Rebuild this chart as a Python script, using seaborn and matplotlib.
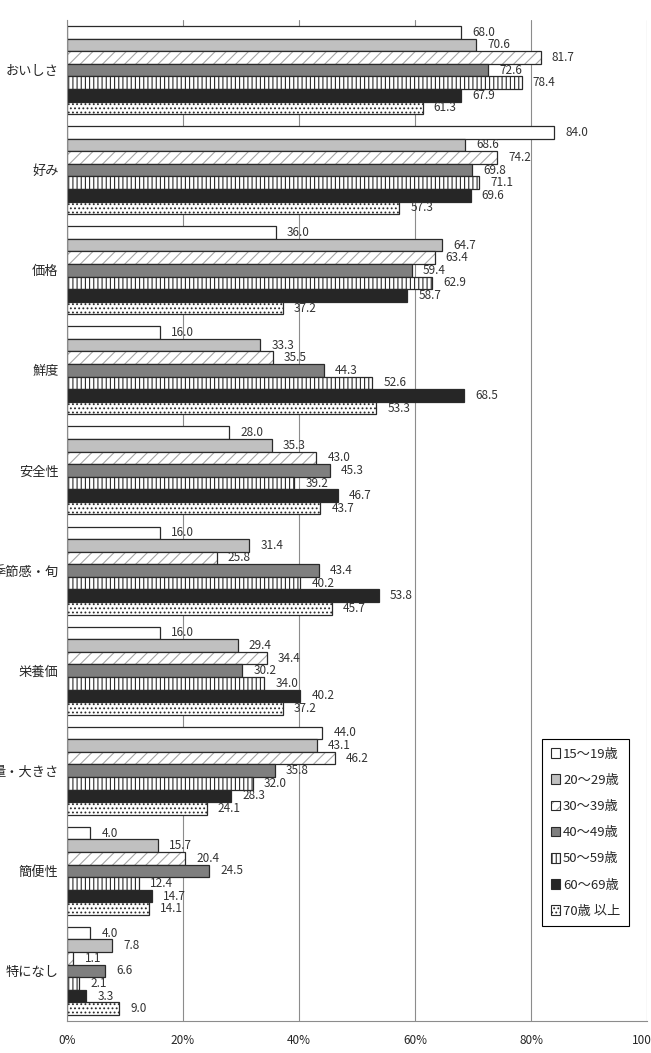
import numpy as np
import pandas as pd
import matplotlib
matplotlib.use("Agg")
import matplotlib.pyplot as plt
from matplotlib.colors import to_rgba
from matplotlib.patches import Patch
import seaborn as sns

categories = ["おいしさ", "好み", "価格", "鮮度", "安全性", "季節感・旬",
              "栄養価", "量・大きさ", "簡便性", "特になし"]
age_groups = ["15〜19歳", "20〜29歳", "30〜39歳", "40〜49歳",
              "50〜59歳", "60〜69歳", "70歳 以上"]

v_15_19 = [68.0, 84.0, 36.0, 16.0, 28.0, 16.0, 16.0, 44.0, 4.0, 4.0]
v_20_29 = [70.6, 68.6, 64.7, 33.3, 35.3, 31.4, 29.4, 43.1, 15.7, 7.8]
v_30_39 = [81.7, 74.2, 63.4, 35.5, 43.0, 25.8, 34.4, 46.2, 20.4, 1.1]
v_40_49 = [72.6, 69.8, 59.4, 44.3, 45.3, 43.4, 30.2, 35.8, 24.5, 6.6]
v_50_59 = [78.4, 71.1, 62.9, 52.6, 39.2, 40.2, 34.0, 32.0, 12.4, 2.1]
v_60_69 = [67.9, 69.6, 58.7, 68.5, 46.7, 53.8, 40.2, 28.3, 14.7, 3.3]
v_70_up = [61.3, 57.3, 37.2, 53.3, 43.7, 45.7, 37.2, 24.1, 14.1, 9.0]

series = [v_15_19, v_20_29, v_30_39, v_40_49, v_50_59, v_60_69, v_70_up]
fills = ["white", "#c0c0c0", "white", "#7f7f7f", "white", "#262626", "white"]
hatches = [None, None, "///", None, "||||", None, "...."]
hatch_colors = [None, None, "#a6a6a6", None, "#2a2a2a", None, "#2a2a2a"]

rows = []
for age, vals in zip(age_groups, series):
    for cat, v in zip(categories, vals):
        rows.append({"category": cat, "age": age, "value": v})
df = pd.DataFrame(rows)

sns.set_style("white")
plt.rcParams["font.family"] = ["Noto Sans CJK JP", "DejaVu Sans"]
plt.rcParams["hatch.linewidth"] = 0.8

fig = plt.figure(figsize=(6.51, 10.53), dpi=100)
ax = fig.add_axes([67 / 651, 1 - 1021 / 1053, 580 / 651, 1001 / 1053])

sns.barplot(data=df, y="category", x="value", hue="age", order=categories,
            hue_order=age_groups, palette=fills, saturation=1, width=0.88,
            edgecolor="#2a2a2a", linewidth=0.9, legend=False, ax=ax)

def paint_hatch(patch, h, hc):
    if h:
        patch.set_hatch(h)
        # light hatch lines on the diagonal series, dark outline kept
        patch._hatch_color = to_rgba(hc)

for cont, h, hc in zip(ax.containers, hatches, hatch_colors):
    for bar in cont:
        paint_hatch(bar, h, hc)
    ax.bar_label(cont, fmt="%.1f", padding=8, fontsize=8.5, color="#333333")

ax.set_xlim(0, 100)
ax.set_ylim(len(categories) - 0.5, -0.5)
ax.set_xticks(np.arange(0, 101, 20))
ax.set_xticklabels([f"{t}%" for t in range(0, 101, 20)], fontsize=8.5)
ax.xaxis.grid(True, color="#8c8c8c", linewidth=0.8)
ax.set_axisbelow(True)
ax.set_xlabel("")
ax.set_ylabel("")
ax.tick_params(axis="y", which="major", length=0, labelsize=9.5, pad=6)
ax.set_yticks(np.arange(-0.5, len(categories)), minor=True)
ax.tick_params(axis="y", which="minor", length=4, direction="out", color="#8c8c8c")
ax.tick_params(axis="x", length=4, direction="out", color="#8c8c8c", pad=5)
for side in ["top", "right"]:
    ax.spines[side].set_visible(False)
for side in ["left", "bottom"]:
    ax.spines[side].set_color("#8c8c8c")
    ax.spines[side].set_linewidth(0.8)

handles = []
for f, h, hc in zip(fills, hatches, hatch_colors):
    p = Patch(facecolor=f, edgecolor="#2a2a2a", linewidth=0.8)
    paint_hatch(p, h, hc)
    handles.append(p)
leg = fig.legend(handles, age_groups, loc="upper left",
                 bbox_to_anchor=(542 / 651, 1 - 739 / 1053),
                 bbox_transform=fig.transFigure, fontsize=9.5, frameon=True,
                 fancybox=False, edgecolor="black", framealpha=1,
                 handlelength=0.75, handleheight=0.75, handletextpad=0.2,
                 labelspacing=1.0, borderpad=0.65, borderaxespad=0)
leg.get_frame().set_linewidth(0.8)

fig.savefig("out.png", dpi=100)
